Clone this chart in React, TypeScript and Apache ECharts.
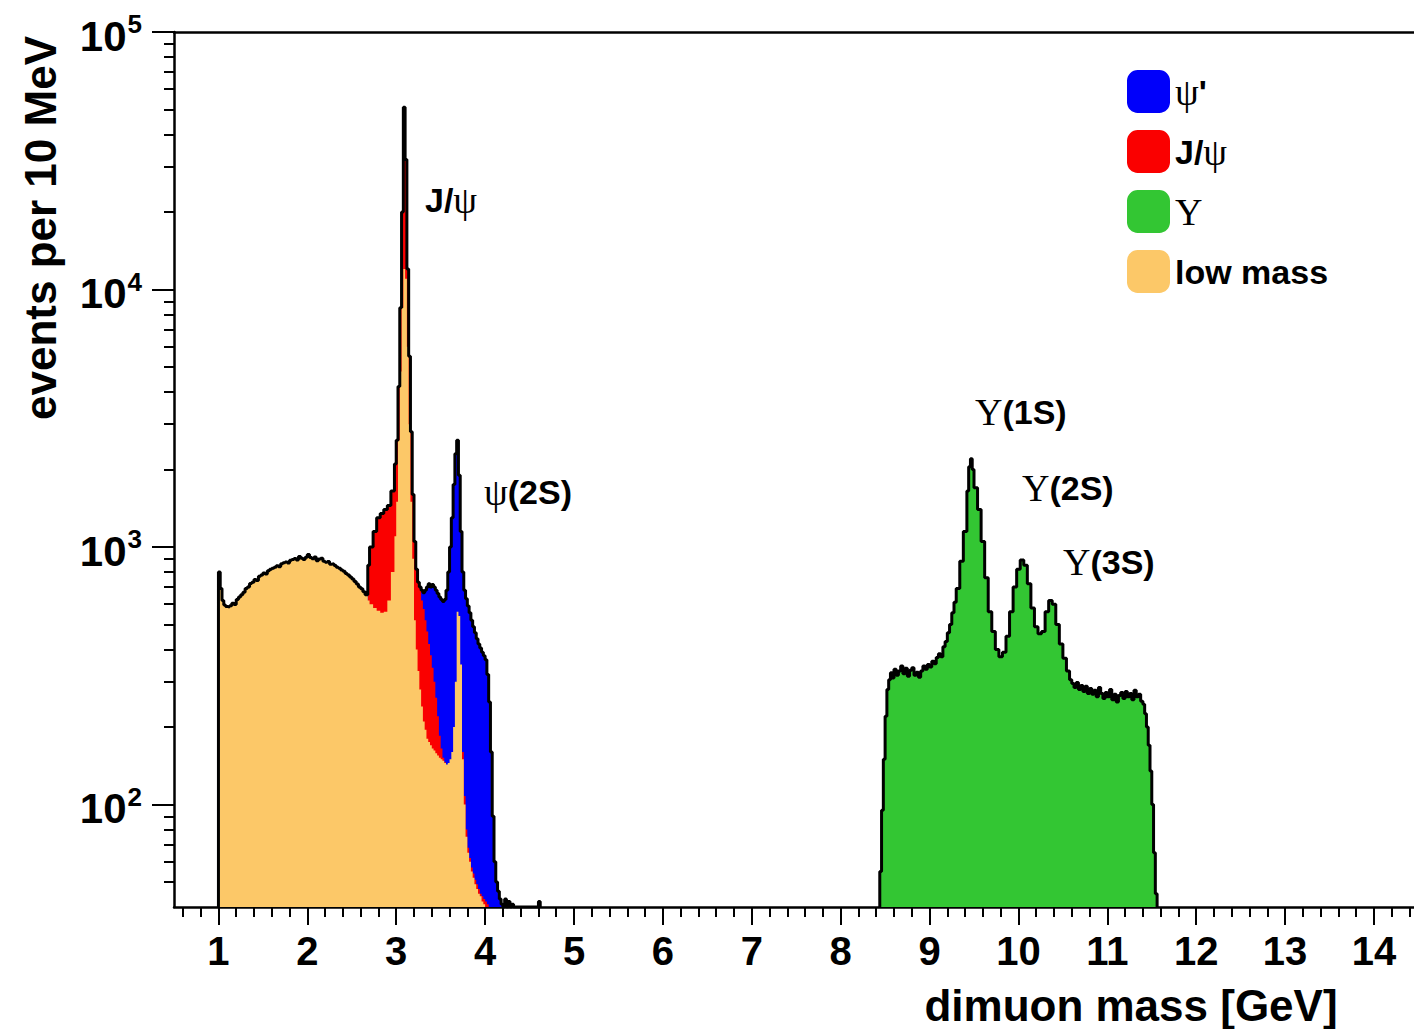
import { useEffect, useRef } from 'react';
import * as echarts from 'echarts';

// Axis floor of the log scale (events per 10 MeV)
const FLOOR = 40;

// Continuum below the J/psi: only the low-mass trigger contributes here
const plateauEdges = [
  1.00, 1.02, 1.04, 1.06, 1.08, 1.10, 1.125, 1.15, 1.175, 1.20,
  1.225, 1.25, 1.275, 1.30, 1.325, 1.35, 1.375, 1.40, 1.425, 1.45,
  1.475, 1.50, 1.525, 1.55, 1.575, 1.60, 1.625, 1.65, 1.675, 1.70,
  1.725, 1.75, 1.775, 1.80, 1.825, 1.85, 1.875, 1.90, 1.925, 1.95,
  1.975, 2.00, 2.025, 2.05, 2.075, 2.10, 2.125, 2.15, 2.175, 2.20,
  2.225, 2.25, 2.275, 2.30, 2.325, 2.35, 2.375, 2.40, 2.425, 2.45,
  2.475, 2.50, 2.525, 2.55, 2.575, 2.60, 2.625, 2.65,
];
const plateauCounts = [
  800, 690, 620, 595, 588, 585, 592, 605, 598, 625,
  640, 652, 668, 690, 700, 722, 730, 748, 742, 770,
  778, 792, 785, 808, 820, 828, 835, 845, 838, 862,
  868, 875, 866, 888, 895, 902, 890, 918, 905, 895,
  912, 935, 910, 900, 915, 885, 898, 905, 880, 872,
  878, 858, 862, 848, 835, 828, 815, 805, 790, 778,
  765, 752, 735, 718, 700, 688, 670, 652,
];

// Charmonium region: bin left edges [GeV] and the top of each coloured layer
const peakEdges = [
  2.68, 2.70, 2.74, 2.78, 2.82, 2.86, 2.90, 2.94, 2.98, 3.00,
  3.02, 3.04, 3.06, 3.08, 3.10, 3.12, 3.14, 3.16, 3.18, 3.20,
  3.22, 3.24, 3.26, 3.28, 3.30, 3.32, 3.34, 3.36, 3.38, 3.40,
  3.42, 3.44, 3.46, 3.48, 3.50, 3.52, 3.54, 3.56, 3.58, 3.60,
  3.62, 3.64, 3.66, 3.68, 3.70, 3.72, 3.74, 3.76, 3.78, 3.80,
  3.82, 3.84, 3.86, 3.88, 3.90, 3.92, 3.94, 3.96, 3.98, 4.00,
  4.02, 4.04, 4.06, 4.08, 4.10, 4.12, 4.14, 4.16, 4.18, 4.20,
  4.22, 4.24, 4.26, 4.28, 4.30, 4.32, 4.58, 4.60, 4.62,
];
// All triggers together (drawn in blue, outlined in black)
const peakTotal = [
  850, 1000, 1150, 1300, 1350, 1400, 1450, 1650, 2100, 2600,
  4200, 8500, 20000, 51000, 32000, 12000, 5500, 2800, 1600, 1050,
  820, 730, 700, 680, 665, 680, 700, 720, 700, 715,
  700, 680, 660, 640, 625, 615, 625, 680, 800, 1000,
  1300, 1750, 2300, 2600, 1900, 1150, 800, 680, 630, 590,
  555, 520, 490, 465, 440, 420, 405, 390, 378, 365,
  320, 250, 160, 90, 60, 50, 46, 43, 41, 40,
  43, 40, 42, 40, 41, 40, 40, 42, 40,
];
// J/psi trigger layer
const peakJpsi = [
  850, 1000, 1150, 1300, 1350, 1400, 1450, 1650, 2100, 2600,
  4200, 8500, 20000, 51000, 32000, 12000, 5500, 2800, 1600, 1050,
  820, 730, 690, 620, 575, 520, 470, 420, 380, 340,
  300, 260, 220, 185, 165, 152, 146, null, null, null,
  null, null, null, null, null, null, 160, 108, 80, 68,
  62, 57, 54, 51, 49, 47, 45, 44, 43, 42,
  41, 40, null, null, null, null, null, null, null, null,
  null, null, null, null, null, null, null, null, null,
];
// Low-mass trigger layer
const peakLowMass = [
  620, 600, 580, 565, 555, 560, 620, 800, 1100, 1500,
  2600, 4800, 8500, 12000, 11000, 6000, 3000, 1500, 900, 520,
  400, 330, 280, 240, 210, 195, 180, 175, 170, 165,
  162, 158, 155, 152, 150, 148, 145, 143, 145, 150,
  160, 200, 300, 560, 540, 350, 150, 100, 75, 65,
  60, 55, 52, 49, 47, 45, 44, 42, 41, 40,
  null, null, null, null, null, null, null, null, null, null,
  null, null, null, null, null, null, null, null, null,
];

// Upsilon region: bin left edges [GeV] and counts
const upsEdges = [
  8.44, 8.46, 8.48, 8.50, 8.52, 8.54, 8.56, 8.58, 8.60, 8.625,
  8.65, 8.675, 8.70, 8.725, 8.75, 8.775, 8.80, 8.825, 8.85, 8.875,
  8.90, 8.925, 8.95, 8.975, 9.00, 9.025, 9.05, 9.075, 9.10, 9.125,
  9.15, 9.175, 9.20, 9.225, 9.25, 9.275, 9.30, 9.34, 9.38, 9.42,
  9.44, 9.46, 9.48, 9.50, 9.54, 9.58, 9.62, 9.66, 9.70, 9.74,
  9.78, 9.82, 9.86, 9.90, 9.94, 9.98, 10.02, 10.06, 10.10, 10.14,
  10.18, 10.22, 10.26, 10.30, 10.34, 10.38, 10.42, 10.46, 10.50, 10.54,
  10.575, 10.60, 10.625, 10.65, 10.675, 10.70, 10.725, 10.75, 10.775, 10.80,
  10.825, 10.85, 10.875, 10.90, 10.925, 10.95, 10.975, 11.00, 11.025, 11.05,
  11.075, 11.10, 11.125, 11.15, 11.175, 11.20, 11.225, 11.25, 11.275, 11.30,
  11.325, 11.35, 11.375, 11.40, 11.42, 11.44, 11.46, 11.48, 11.50, 11.52,
  11.54, 11.56,
];
const upsCounts = [
  55, 95, 150, 220, 280, 305, 325, 310, 335, 318,
  330, 345, 322, 338, 315, 332, 340, 318, 326, 312,
  330, 345, 335, 350, 342, 360, 352, 372, 385, 375,
  410, 430, 465, 500, 555, 610, 690, 880, 1150, 1650,
  2050, 2200, 2000, 1700, 1400, 1050, 760, 560, 470, 400,
  375, 390, 450, 560, 700, 820, 890, 850, 720, 580,
  490, 460, 470, 560, 620, 600, 500, 420, 370, 330,
  305, 295, 285, 298, 280, 290, 275, 288, 270, 282,
  268, 278, 262, 285, 270, 258, 272, 262, 280, 255,
  268, 250, 265, 272, 258, 275, 262, 270, 255, 278,
  262, 268, 252, 245, 225, 200, 170, 135, 100, 65,
  45, 40,
];

type Val = number | null;
const lowEdges = [...plateauEdges, ...peakEdges];
const totalCounts: Val[] = [...plateauCounts, ...peakTotal];
const jpsiCounts: Val[] = [...plateauEdges.map(() => null), ...peakJpsi];
const lowMassCounts: Val[] = [...plateauCounts, ...peakLowMass];

// Axis ticks
const X_MIN = 0.5;
const X_MAX = 14.45;
const xMajorTicks = [1, 2, 3, 4, 5, 6, 7, 8, 9, 10, 11, 12, 13, 14];
const xMinorTicks: number[] = [];
for (let i = 0; i < 70; i++) {
  const v = Math.round((0.6 + i * 0.2) * 10) / 10;
  if (v <= X_MAX && Math.abs(v - Math.round(v)) > 1e-6) xMinorTicks.push(v);
}
const yMajorTicks = [100, 1000, 10000, 100000];
const yMinorTicks = [
  50, 60, 70, 80, 90,
  200, 300, 400, 500, 600, 700, 800, 900,
  2000, 3000, 4000, 5000, 6000, 7000, 8000, 9000,
  20000, 30000, 40000, 50000, 60000, 70000, 80000, 90000,
];

const BLUE = '#0000fa';
const RED = '#fa0000';
const GREEN = '#33c633';
const ORANGE = '#fcc868';

const SANS = '"Liberation Sans", Arial, sans-serif';
const SERIF = '"Liberation Serif", "DejaVu Serif", serif';

const RICH = {
  b: { fontFamily: SANS, fontWeight: 'bold', fontSize: 34, color: '#000' },
  g: { fontFamily: SERIF, fontWeight: 'normal', fontSize: 38, color: '#000' },
};

const legendLabels: Record<string, string> = {
  "ψ'": "{g|ψ}{b|'}",
  'J/ψ': '{b|J/}{g|ψ}',
  'Υ': '{g|Υ}',
  'low mass': '{b|low mass}',
};

const peakLabels = [
  { text: '{b|J/}{g|ψ}', x: 425, y: 200 },
  { text: '{g|ψ}{b|(2S)}', x: 484, y: 492 },
  { text: '{g|Υ}{b|(1S)}', x: 975, y: 412 },
  { text: '{g|Υ}{b|(2S)}', x: 1022, y: 488 },
  { text: '{g|Υ}{b|(3S)}', x: 1063, y: 562 },
];

const pairs = (edges: number[], vals: Val[]) =>
  edges.map((x, i) => [x, vals[i] === null ? '-' : vals[i]] as [number, number | string]);

const withFloorStart = (edges: number[], vals: Val[]) => [[edges[0], FLOOR], ...pairs(edges, vals)];

export default function App() {
  const ref = useRef<HTMLDivElement>(null);

  useEffect(() => {
    if (!ref.current) return;
    const chart = echarts.init(ref.current, undefined, { renderer: 'svg' });

    const areaSeries = (name: string, color: string, data: any[]) => ({
      name,
      type: 'line',
      step: 'end',
      data,
      xAxisIndex: 0,
      yAxisIndex: 0,
      showSymbol: false,
      symbol: 'none',
      color,
      itemStyle: { color },
      lineStyle: { width: 0, color },
      areaStyle: { color, opacity: 1, origin: 'start' },
      emphasis: { disabled: true },
      silent: true,
    });

    const outlineSeries = (data: any[]) => ({
      type: 'line',
      step: 'end',
      data,
      xAxisIndex: 0,
      yAxisIndex: 0,
      showSymbol: false,
      symbol: 'none',
      lineStyle: { width: 3, color: '#000' },
      emphasis: { disabled: true },
      silent: true,
    });

    const plainAxis = {
      type: 'value',
      min: X_MIN,
      max: X_MAX,
      axisLabel: { show: false },
      splitLine: { show: false },
    };

    chart.setOption({
      animation: false,
      backgroundColor: '#fff',
      grid: { left: 174, top: 32, right: 0, height: 875, show: false },
      legend: {
        data: ["ψ'", 'J/ψ', 'Υ', 'low mass'],
        orient: 'vertical',
        left: 1122,
        top: 65,
        itemWidth: 43,
        itemHeight: 43,
        itemGap: 17,
        icon: 'roundRect',
        selectedMode: false,
        formatter: (name: string) => legendLabels[name] ?? name,
        textStyle: { fontFamily: SANS, fontSize: 34, fontWeight: 'bold', color: '#000', rich: RICH },
      },
      xAxis: [
        {
          type: 'value',
          min: X_MIN,
          max: X_MAX,
          position: 'bottom',
          axisLine: { show: true, lineStyle: { color: '#000', width: 2.5 } },
          axisTick: { show: true, customValues: xMajorTicks, length: 18, lineStyle: { color: '#000', width: 2 } },
          axisLabel: {
            show: true,
            customValues: xMajorTicks,
            fontFamily: SANS,
            fontSize: 40,
            fontWeight: 'bold',
            color: '#000',
            margin: 24,
          },
          splitLine: { show: false },
        },
        {
          ...plainAxis,
          position: 'bottom',
          axisLine: { show: false },
          axisTick: { show: true, customValues: xMinorTicks, length: 10, lineStyle: { color: '#000', width: 2 } },
        },
        {
          ...plainAxis,
          position: 'top',
          axisLine: { show: true, lineStyle: { color: '#000', width: 2.5 } },
          axisTick: { show: false },
        },
      ],
      yAxis: [
        {
          type: 'log',
          logBase: 10,
          min: FLOOR,
          max: 100000,
          position: 'left',
          axisLine: { show: true, lineStyle: { color: '#000', width: 2.5 } },
          axisTick: { show: true, customValues: yMajorTicks, length: 22, lineStyle: { color: '#000', width: 2 } },
          axisLabel: {
            show: true,
            customValues: yMajorTicks,
            margin: 32,
            formatter: (v: number) => `{m|10}{e|${Math.round(Math.log10(v))}}`,
            rich: {
              m: { fontFamily: SANS, fontSize: 42, fontWeight: 'bold', color: '#000', padding: [8, 0, 0, 0] },
              e: { fontFamily: SANS, fontSize: 26, fontWeight: 'bold', color: '#000', padding: [0, 0, 16, 1] },
            },
          },
          splitLine: { show: false },
        },
        {
          type: 'log',
          logBase: 10,
          min: FLOOR,
          max: 100000,
          position: 'left',
          axisLine: { show: false },
          axisTick: { show: true, customValues: yMinorTicks, length: 10, lineStyle: { color: '#000', width: 2 } },
          axisLabel: { show: false },
          splitLine: { show: false },
        },
      ],
      series: [
        areaSeries("ψ'", BLUE, pairs(lowEdges, totalCounts)),
        areaSeries('J/ψ', RED, pairs(lowEdges, jpsiCounts)),
        areaSeries('low mass', ORANGE, pairs(lowEdges, lowMassCounts)),
        areaSeries('Υ', GREEN, pairs(upsEdges, upsCounts)),
        outlineSeries(withFloorStart(lowEdges, totalCounts)),
        outlineSeries(withFloorStart(upsEdges, upsCounts)),
      ],
      graphic: [
        ...peakLabels.map((p) => ({
          type: 'text',
          x: p.x,
          y: p.y,
          silent: true,
          style: { text: p.text, rich: RICH, align: 'left', verticalAlign: 'middle', fill: '#000' },
        })),
        {
          type: 'text',
          x: 40,
          y: 228,
          rotation: Math.PI / 2,
          silent: true,
          style: {
            text: 'events per 10 MeV',
            font: `bold 44px ${SANS}`,
            align: 'center',
            verticalAlign: 'middle',
            fill: '#000',
          },
        },
        {
          type: 'text',
          x: 1131,
          y: 1005,
          silent: true,
          style: {
            text: 'dimuon mass [GeV]',
            font: `bold 44px ${SANS}`,
            align: 'center',
            verticalAlign: 'middle',
            fill: '#000',
          },
        },
      ],
    });

    return () => chart.dispose();
  }, []);

  return (
    <div
      ref={ref}
      style={{ position: 'fixed', left: 0, top: 0, width: 1414, height: 1029, background: '#fff' }}
    />
  );
}
